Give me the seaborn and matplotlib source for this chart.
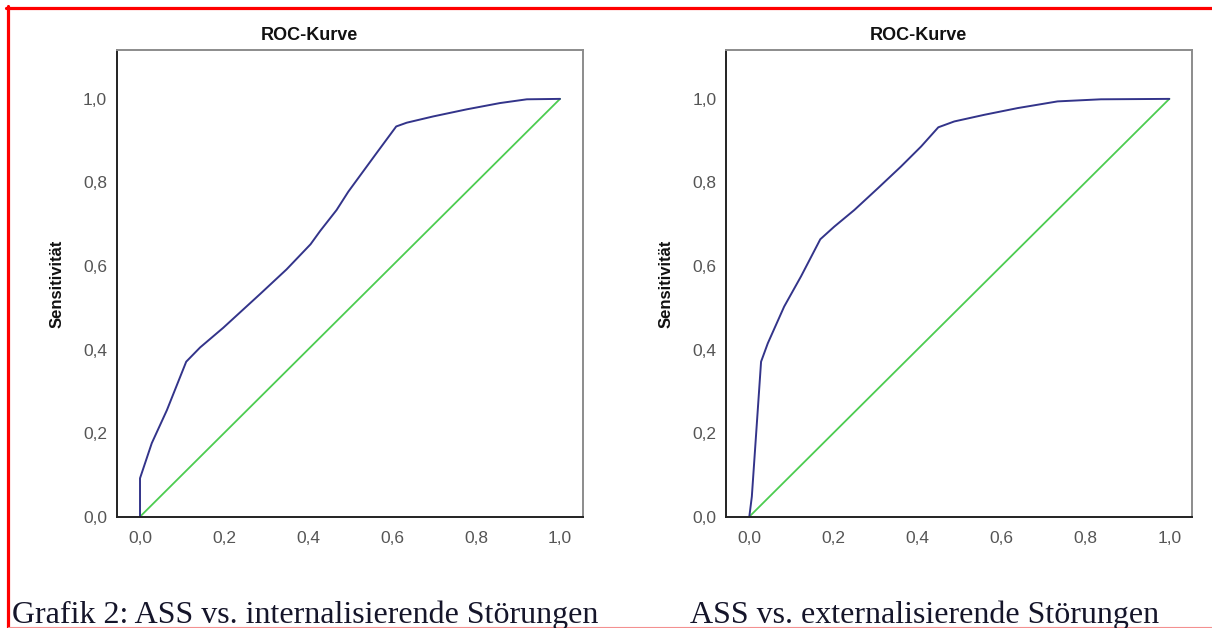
import matplotlib
matplotlib.use("Agg")
import matplotlib.pyplot as plt
from matplotlib.lines import Line2D
import seaborn as sns

# ROC curve (1 - specificity, sensitivity)
int_fpr = [0.0, 0.0, 0.028, 0.064, 0.110, 0.143, 0.198, 0.286, 0.349, 0.406, 0.429,
           0.468, 0.496, 0.563, 0.610, 0.635, 0.698, 0.778, 0.857, 0.921, 1.0]
int_tpr = [0.0, 0.092, 0.176, 0.255, 0.371, 0.405, 0.452, 0.533, 0.592, 0.652, 0.684,
           0.734, 0.778, 0.870, 0.934, 0.943, 0.958, 0.975, 0.990, 0.999, 1.0]

ext_fpr = [0.0, 0.006, 0.028, 0.044, 0.083, 0.123, 0.169, 0.202, 0.250, 0.306, 0.361,
           0.409, 0.450, 0.488, 0.560, 0.639, 0.734, 0.837, 1.0]
ext_tpr = [0.0, 0.048, 0.371, 0.415, 0.503, 0.575, 0.664, 0.694, 0.734, 0.786, 0.838,
           0.886, 0.932, 0.946, 0.962, 0.978, 0.994, 0.999, 1.0]

ref_line = [0.0, 1.0]
ticks = [0.0, 0.2, 0.4, 0.6, 0.8, 1.0]
tick_labels = ["0,0", "0,2", "0,4", "0,6", "0,8", "1,0"]

title = "ROC-Kurve"
ylabel = "Sensitivität"
captions = ["Grafik 2: ASS vs. internalisierende Störungen",
            "ASS vs. externalisierende Störungen"]

sns.set_style("white")
plt.rcParams['font.family'] = ['Liberation Sans', 'DejaVu Sans']

fig = plt.figure(figsize=(12.12, 6.28), dpi=100)
W, H = 1212, 628

panels = [
    (116.7, int_fpr, int_tpr),
    (726.0, ext_fpr, ext_tpr),
]

for left_px, fpr, tpr in panels:
    ax = fig.add_axes([left_px / W, (H - 516.7) / H, 466.0 / W, 466.7 / H])
    sns.lineplot(x=ref_line, y=ref_line, ax=ax, color="#4ccc50", linewidth=1.3,
                 sort=False, estimator=None)
    sns.lineplot(x=fpr, y=tpr, ax=ax, color="#33348a", linewidth=1.4,
                 sort=False, estimator=None)
    ax.set_xlim(-0.0555, 1.054)
    ax.set_ylim(0, 1.117)
    ax.set_xticks(ticks)
    ax.set_xticklabels(tick_labels)
    ax.set_yticks(ticks)
    ax.set_yticklabels(tick_labels)
    ax.tick_params(axis="both", direction="out", length=6, width=1.2,
                   colors="#222222", labelcolor="#555555", labelsize=12.5)
    ax.tick_params(axis="x", pad=4)
    ax.tick_params(axis="y", pad=1)
    for side in ["left", "bottom"]:
        ax.spines[side].set_color("#222222")
        ax.spines[side].set_linewidth(1.4)
    for side in ["top", "right"]:
        ax.spines[side].set_color("#8c8c8c")
        ax.spines[side].set_linewidth(1.4)
    ax.set_xlabel("")
    ax.set_ylabel("")
    ax.text(0.413, 1.032, title, transform=ax.transAxes, ha="center", va="center",
            fontsize=13, fontweight="bold", color="#111111")
    ax.text(-0.128, 0.5, ylabel, transform=ax.transAxes, rotation=90,
            ha="center", va="center", fontsize=12, fontweight="bold",
            color="#111111")

# captions below the charts
fig.text(12 / W, (H - 623) / H, captions[0], family="Liberation Serif",
         fontsize=23, color="#15152a", ha="left", va="baseline")
fig.text(690 / W, (H - 623) / H, captions[1], family="Liberation Serif",
         fontsize=23, color="#15152a", ha="left", va="baseline")

# red frame of the screenshot
fig.add_artist(Line2D([6 / W, 1.0], [1 - 7.5 / H, 1 - 7.5 / H],
                      transform=fig.transFigure, color="#ff0000", linewidth=2.3))
fig.add_artist(Line2D([8 / W, 8 / W], [0.0, 1 - 6 / H],
                      transform=fig.transFigure, color="#ff0000", linewidth=2.3))
fig.add_artist(Line2D([8 / W, 1.0], [1.5 / H, 1.5 / H],
                      transform=fig.transFigure, color="#f49090", linewidth=0.8))

fig.savefig("out.png", dpi=100, facecolor="white")
